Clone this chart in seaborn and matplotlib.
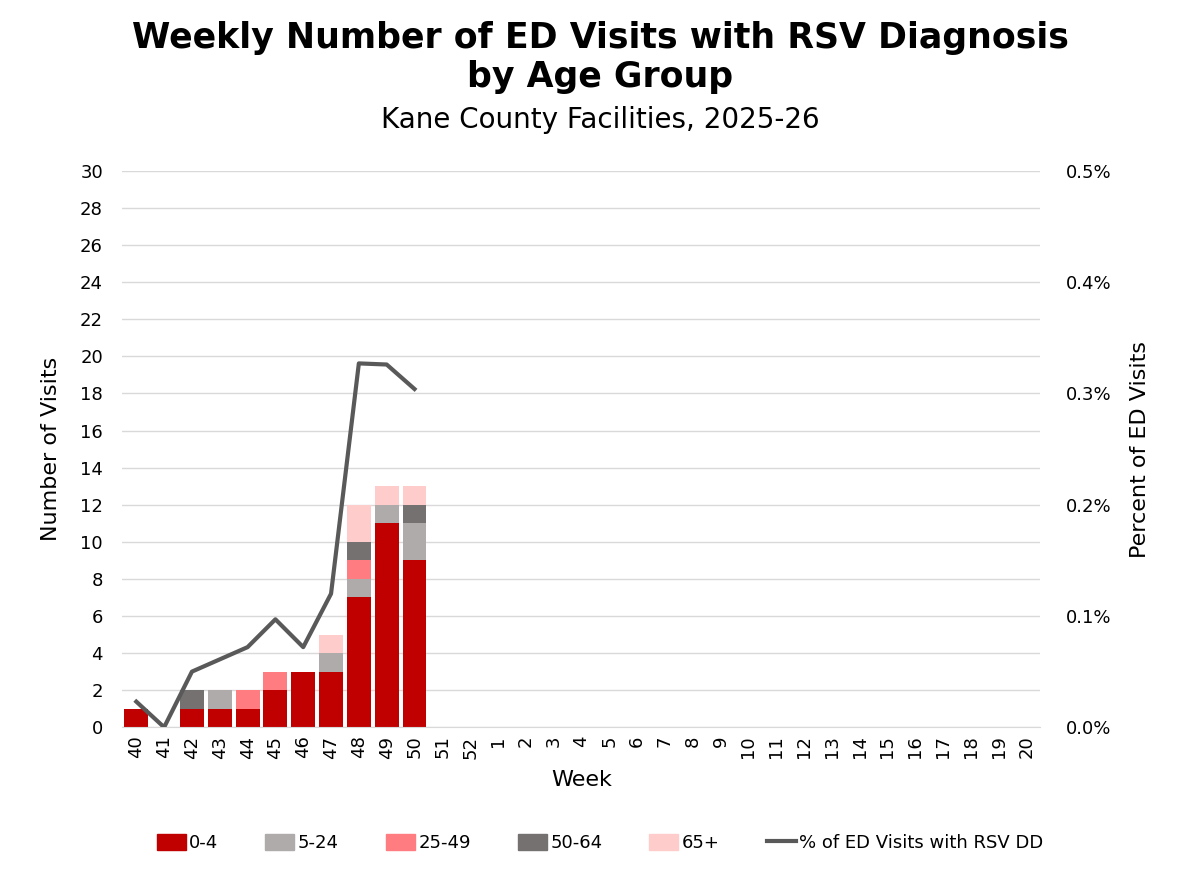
import numpy as np
import pandas as pd
import seaborn as sns
import matplotlib.pyplot as plt
from matplotlib.patches import Patch
from matplotlib.lines import Line2D

# 주차 (2025-26 시즌)
weeks = [str(w) for w in range(40, 53)] + [str(w) for w in range(1, 21)]

# 연령대별 방문 수 (40~50주만 값 있음)
age_0_4 = [1, 0, 1, 1, 1, 2, 3, 3, 7, 11, 9]
age_5_24 = [0, 0, 0, 1, 0, 0, 0, 1, 1, 1, 2]
age_25_49 = [0, 0, 0, 0, 1, 1, 0, 0, 1, 0, 0]
age_50_64 = [0, 0, 1, 0, 0, 0, 0, 0, 1, 0, 1]
age_65 = [0, 0, 0, 0, 0, 0, 0, 1, 2, 1, 1]

# RSV 진단 ED 방문 비율 (%)
pct_rsv = [0.023, 0.0, 0.050, 0.061, 0.072, 0.097, 0.072, 0.120, 0.327, 0.326, 0.304]

groups = ['0-4', '5-24', '25-49', '50-64', '65+']
colors = ['#C00000', '#AFABAB', '#FF7C80', '#767171', '#FFCCCC']
series = [age_0_4, age_5_24, age_25_49, age_50_64, age_65]

n = len(weeks)
def pad(v):
    return np.array(v + [0] * (n - len(v)), dtype=float)

cum = np.cumsum([pad(s) for s in series], axis=0)

fig = plt.figure(figsize=(12, 8.72), dpi=100)
ax = fig.add_axes([0.102, 0.166, 0.765, 0.638])

# 누적값을 위에서부터 겹쳐 그려서 누적 막대 표현
for i in range(len(groups) - 1, -1, -1):
    df = pd.DataFrame({'week': weeks, 'val': cum[i]})
    sns.barplot(data=df, x='week', y='val', order=weeks, color=colors[i],
                width=0.86, saturation=1, ax=ax, linewidth=0, zorder=2)

ax.set_ylim(0, 30)
ax.set_xlim(-0.5, n - 0.5)
ax.set_yticks(range(0, 31, 2))
ax.grid(axis='y', color='#D9D9D9', linewidth=1, zorder=0)
ax.set_axisbelow(True)
for s in ['top', 'right', 'left']:
    ax.spines[s].set_visible(False)
ax.spines['bottom'].set_color('#D9D9D9')
ax.tick_params(axis='both', length=0, labelsize=13, colors='#000000')
ax.tick_params(axis='x', rotation=90, pad=6)
ax.tick_params(axis='y', pad=14)
ax.set_xlabel('Week', fontsize=16, labelpad=8)
ax.set_ylabel('Number of Visits', fontsize=16, labelpad=14)

# 오른쪽 축: 비율 선
ax2 = ax.twinx()
line_df = pd.DataFrame({'x': np.arange(len(pct_rsv)), 'pct': pct_rsv})
sns.lineplot(data=line_df, x='x', y='pct', color='#595959', linewidth=3, ax=ax2)
ax2.set_ylim(0, 0.5)
ax2.set_xlim(-0.5, n - 0.5)
ax2.set_yticks(np.arange(0, 0.51, 0.1))
ax2.set_yticklabels(['{:.1f}%'.format(v) for v in np.arange(0, 0.51, 0.1)])
for s in ax2.spines.values():
    s.set_visible(False)
ax2.tick_params(axis='y', length=0, labelsize=13, pad=18)
ax2.set_ylabel('Percent of ED Visits', fontsize=16, labelpad=14)
ax2.set_xlabel('')

fig.text(0.5, 0.934, 'Weekly Number of ED Visits with RSV Diagnosis\nby Age Group',
         ha='center', va='center', fontsize=25, fontweight='bold', linespacing=1.2)
fig.text(0.5, 0.862, 'Kane County Facilities, 2025-26', ha='center', va='center', fontsize=20)

handles = [Patch(color=c, label=g) for g, c in zip(groups, colors)]
handles.append(Line2D([0], [0], color='#595959', linewidth=3, label='% of ED Visits with RSV DD'))
fig.legend(handles=handles, loc='center', bbox_to_anchor=(0.5, 0.033), ncol=6, frameon=False,
           fontsize=13, handlelength=1.6, handleheight=1.0, handletextpad=0.2, columnspacing=2.6)

fig.savefig('out.png', dpi=100)
